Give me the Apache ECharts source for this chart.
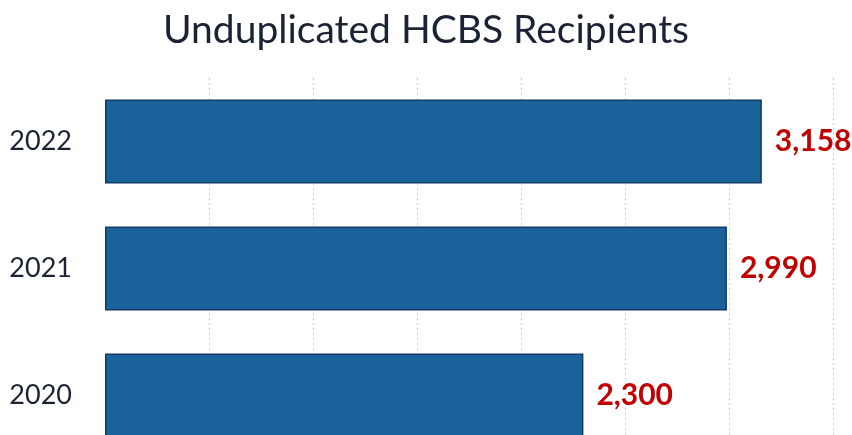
<!DOCTYPE html>
<html>
  <head>
    <meta charset="utf-8">
    <title>Unduplicated HCBS Recipients</title>
    <script src="https://cdn.jsdelivr.net/npm/echarts@6.0.0/dist/echarts.min.js"></script>
    <style>
      body { margin: 0px; overflow: hidden; }
    </style>
  </head>
  <body>
    <!-- taller than the window on purpose: the scan cuts the last bar off -->
    <div id="chart" style="width: 852px;height:459px;"></div>
  </body>
</html>
<script type="text/javascript">
  // values
  const years = ['2022', '2021', '2020']
  const recipients = [3158, 2990, 2300]

  const myChart = echarts.init(document.getElementById('chart'))

  let option = {
    backgroundColor: '#ffffff',
    title: {
      text: 'Unduplicated HCBS Recipients',
      left: 'center',
      top: 6,
      textStyle: {
        fontFamily: 'Lato',
        fontWeight: 'normal',
        fontSize: 39,
        color: '#1b2233'
      }
    },
    grid: {
      left: 105,
      right: 19,
      top: 78,
      bottom: 0
    },
    xAxis: {
      type: 'value',
      min: 0,
      max: 3500,
      interval: 500,
      axisLabel: { show: false },
      axisLine: { show: false },
      axisTick: { show: false },
      splitLine: {
        showMinLine: false,
        lineStyle: { color: '#cfcfcf', type: [2, 3], width: 1 }
      }
    },
    yAxis: {
      type: 'category',
      data: years,
      inverse: true,
      axisLine: { show: false },
      axisTick: { show: false },
      axisLabel: {
        margin: 33,
        fontFamily: 'Lato',
        fontSize: 27,
        color: '#1b2233'
      }
    },
    series: [
      {
        type: 'bar',
        data: recipients,
        barWidth: 84,
        itemStyle: {
          color: '#1a629a',
          borderColor: '#143a6a',
          borderWidth: 1.5
        },
        label: {
          show: true,
          position: 'right',
          distance: 13,
          fontFamily: 'Lato',
          fontWeight: 'bold',
          fontSize: 30,
          color: '#c00000',
          formatter: (p) => p.value.toLocaleString('en-US')
        }
      }
    ]
  }

  myChart.setOption(option)
</script>
